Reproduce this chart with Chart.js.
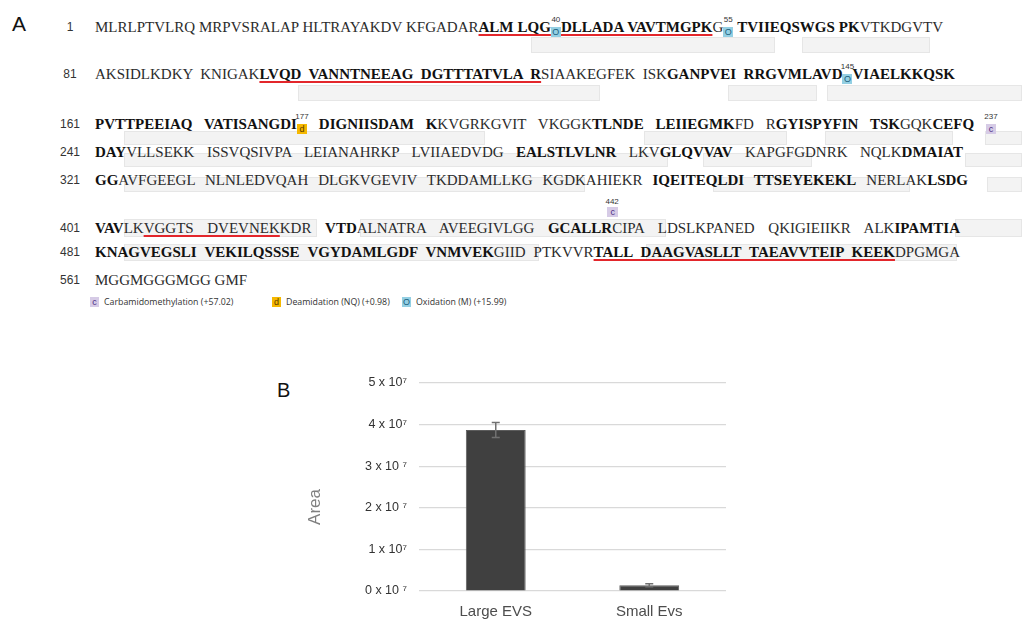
<!DOCTYPE html>
<html>
<head>
<meta charset="utf-8">
<script src="https://cdn.jsdelivr.net/npm/chart.js@4.4.1/dist/chart.umd.min.js"></script>
<style>
  html,body{margin:0;padding:0;background:#fff;}
  body{width:1022px;height:621px;overflow:hidden;position:relative;font-family:"Liberation Sans",Arial,sans-serif;}
  .panel{position:absolute;font-family:"Liberation Sans",Arial,sans-serif;color:#111;}
  .cov{position:absolute;background:#f3f3f3;border:1px solid #e6e6e6;box-sizing:border-box;z-index:0;}
  .seq{position:absolute;left:95px;display:inline-block;height:18px;line-height:18px;font-size:15px;
       font-family:"Liberation Serif","Times New Roman",serif;white-space:pre;color:#2b2b2b;z-index:2;transform-origin:0 50%;}
  .seq .b{font-weight:bold;color:#111;}
  .seq .ul{text-decoration:underline;text-decoration-color:#e3262b;text-decoration-thickness:2px;text-underline-offset:2px;}
  .ln{position:absolute;left:55px;width:30px;text-align:center;font:12px "Liberation Sans",Arial,sans-serif;color:#333;line-height:14px;z-index:2;}
  .mk{display:inline-block;position:relative;width:10px;height:10px;line-height:10px;font:9px "Liberation Sans",Arial,sans-serif;
      text-align:center;vertical-align:-3px;font-weight:normal;}
  .mk .num,.mka .num{position:absolute;left:50%;transform:translateX(-50%);top:-12px;font:8px "Liberation Sans",Arial,sans-serif;color:#333;line-height:9px;white-space:nowrap;}
  .mka{display:inline-block;position:relative;width:0;height:10px;}
  .mka .box{position:absolute;left:-5px;top:-16px;width:11px;height:10px;line-height:10px;font:9px "Liberation Sans",Arial,sans-serif;text-align:center;}
  .mka .num{top:-26px;}
  .o{background:#93cfe3;color:#1b5e7c;}
  .d{background:#f5b800;color:#5b3b00;}
  .c{background:#d6cbe6;color:#4b2e83;}
  .leg{position:absolute;top:296px;height:11px;line-height:11px;font:8.8px "Open Sans","Liberation Sans",sans-serif;color:#333;white-space:nowrap;}
  .leg .sw{display:inline-block;width:9px;height:10px;line-height:10px;text-align:center;margin-right:5px;font:9px "Liberation Sans",Arial,sans-serif;vertical-align:0;}
  #chartWrap{position:absolute;left:270px;top:360px;width:480px;height:261px;}
</style>
</head>
<body>
<div class="panel" style="left:12px;top:12px;font-size:21px;">A</div>
<div class="panel" style="left:277px;top:379px;font-size:20px;">B</div>
<div id="seqArea"></div>
<div class="leg" style="left:90px;"><span class="sw c">c</span>Carbamidomethylation (+57.02)</div>
<div class="leg" style="left:272px;"><span class="sw d">d</span>Deamidation (NQ) (+0.98)</div>
<div class="leg" style="left:402px;"><span class="sw o">O</span>Oxidation (M) (+15.99)</div>
<div id="chartWrap"><canvas id="chart" width="480" height="261"></canvas></div>

<script>
// ---------------- Panel B data ----------------
const categories = ['Large EVS', 'Small Evs'];
const areaValues = [3.87e7, 0.14e7];
const areaErrors = [0.18e7, 0.035e7];
const yTickLabels = ['0 x 10 \u2077', '1 x 10\u2077', '2 x 10 \u2077', '3 x 10 \u2077', '4 x 10\u2077', '5 x 10\u2077'];
const yAxisTitle = 'Area';

// ---------------- Panel A data ----------------
// *bold*, _underlined (red)_, {type:position} modification marker, {C:n} marker drawn above the text
const lineStarts = [1, 81, 161, 241, 321, 401, 481, 561];
const sequenceLines = [
  "MLRLPTVLRQ MRPVSRALAP HLTRAYAKDV KFGADAR_*ALM LQG*{o:40}*DLLADA VAVTMGPK*_G{o:55} *TVIIEQSWGS PK*VTKDGVTV",
  "AKSIDLKDKY KNIGAK_*LVQD VANNTNEEAG DGTTTATVLA R*_SIAAKEGFEK ISK*GANPVEI RRGVMLAVD*{o:145}*VIAELKKQSK*",
  "*PVTTPEEIAQ VATISANGDI*{d:177} *DIGNIISDAM K*KVGRKGVIT VKGGK*TLNDE LEIIEGMK*FD R*GYISPYFIN TSK*GQK*CEFQ* {c:237}",
  "*DAY*VLLSEKK ISSVQSIVPA LEIANAHRKP LVIIAEDVDG *EALSTLVLNR* LKV*GLQVVAV* KAPGFGDNRK NQLK*DMAIAT*",
  "*GG*AVFGEEGL NLNLEDVQAH DLGKVGEVIV TKDDAMLLKG KGDKAHIEKR *IQEITEQLDI TTSEYEKEKL* NERLAK*LSDG*",
  "*VAV*LK_VGGTS DVEVNEK_KDR *VTD*ALNATRA AVEEGIVLGG *GCALLR*{C:442}CIPA LDSLKPANED QKIGIEIIKR ALK*IPAMTIA*",
  "*KNAGVEGSLI VEKILQSSSE VGYDAMLGDF VNMVEK*GIID PTKVVR_*TALL DAAGVASLLT TAEAVVTEIP KEEK*_DPGMGA",
  "MGGMGGGMGG GMF"
];

// ---------------- Panel A layout (not data) ----------------
const lineCenters = [27, 74, 124, 152, 180, 228, 252, 280];
const lineRightEdges = [943, 955, 996, 963, 968, 960, 960, null];
const coverageBoxes = [
  [531,775,37,53],[802,930,37,53],
  [298,600,85,101],[728,817,85,101],[827,1022,85,101],
  [124,485,131,145],[644,787,131,145],[825,953,131,145],[985,1022,131,145],
  [124,668,153,167],[703,812,153,167],[965,1022,153,167],
  [124,585,177,192],[713,910,177,192],[987,1022,177,192],
  [124,317,219,237],[360,666,219,237],[955,1022,219,237],
  [124,539,244,261],[646,957,244,261]
];

const area = document.getElementById('seqArea');
coverageBoxes.forEach(([x1,x2,y1,y2]) => {
  const d = document.createElement('div');
  d.className = 'cov';
  d.style.cssText = `left:${x1}px;top:${y1}px;width:${x2-x1}px;height:${y2-y1}px;`;
  area.appendChild(d);
});

function markerHTML(type, num) {
  const letter = {o:'O', d:'d', c:'c', C:'c'}[type];
  if (type === 'C') {
    return `<span class="mka"><span class="num">${num}</span><span class="box c">${letter}</span></span>`;
  }
  return `<span class="mk ${type}"><span class="num">${num}</span>${letter}</span>`;
}
function buildLine(str) {
  let html = '', bold = false, ul = false, buf = '';
  const flush = () => {
    if (buf) { html += `<span class="${bold ? 'b' : ''} ${ul ? 'ul' : ''}">${buf}</span>`; buf = ''; }
  };
  for (let i = 0; i < str.length; i++) {
    const ch = str[i];
    if (ch === '*') { flush(); bold = !bold; }
    else if (ch === '_') { flush(); ul = !ul; }
    else if (ch === '{') {
      flush();
      const j = str.indexOf('}', i);
      const [t, n] = str.slice(i + 1, j).split(':');
      html += markerHTML(t, n);
      i = j;
    } else buf += ch;
  }
  flush();
  return html;
}

sequenceLines.forEach((s, k) => {
  const ln = document.createElement('div');
  ln.className = 'ln';
  ln.style.top = (lineCenters[k] - 7) + 'px';
  ln.textContent = lineStarts[k];
  area.appendChild(ln);

  const el = document.createElement('div');
  el.className = 'seq';
  el.style.top = (lineCenters[k] - 9) + 'px';
  el.innerHTML = buildLine(s);
  area.appendChild(el);

  const right = lineRightEdges[k];
  if (right) {
    const target = right - 95;
    const W = el.getBoundingClientRect().width;
    const gaps = (s.match(/ /g) || []).length;
    if (W <= target) {
      el.style.wordSpacing = ((target - W) / gaps) + 'px';
    } else {
      el.style.transform = `scaleX(${target / W})`;
    }
  }
});

// ---------------- Panel B chart ----------------
const errorBarPlugin = {
  id: 'errorBars',
  afterDatasetsDraw(chart) {
    const {ctx} = chart;
    const y = chart.scales.y;
    const meta = chart.getDatasetMeta(0);
    ctx.save();
    ctx.strokeStyle = '#707070';
    ctx.lineWidth = 1.5;
    meta.data.forEach((bar, i) => {
      const top = y.getPixelForValue(areaValues[i] + areaErrors[i]);
      const bot = y.getPixelForValue(areaValues[i] - areaErrors[i]);
      const x = bar.x;
      ctx.beginPath();
      ctx.moveTo(x, top); ctx.lineTo(x, bot);
      ctx.moveTo(x - 4, top); ctx.lineTo(x + 4, top);
      ctx.moveTo(x - 4, bot); ctx.lineTo(x + 4, bot);
      ctx.stroke();
    });
    ctx.restore();
  }
};
const yTitlePlugin = {
  id: 'yTitle',
  afterDraw(chart) {
    const {ctx} = chart;
    ctx.save();
    ctx.translate(45, 147);
    ctx.rotate(-Math.PI / 2);
    ctx.font = '17px "Liberation Sans", Arial, sans-serif';
    ctx.fillStyle = '#7f7f7f';
    ctx.textAlign = 'center';
    ctx.textBaseline = 'middle';
    ctx.fillText(yAxisTitle, 0, 0);
    ctx.restore();
  }
};

new Chart(document.getElementById('chart'), {
  type: 'bar',
  data: {
    labels: categories,
    datasets: [{
      data: areaValues,
      backgroundColor: '#404040',
      borderColor: '#5c5c5c',
      borderWidth: 1,
      barPercentage: 0.39,
      categoryPercentage: 1
    }]
  },
  options: {
    responsive: false,
    animation: false,
    devicePixelRatio: 1,
    layout: {padding: {left: 0, top: 23, right: 24, bottom: 0}},
    plugins: {legend: {display: false}, tooltip: {enabled: false}},
    scales: {
      x: {
        grid: {display: false},
        border: {display: false},
        ticks: {font: {family: '"Liberation Sans", Arial, sans-serif', size: 15}, color: '#4d4d4d', padding: 4},
        afterFit(s) { s.height = 30; }
      },
      y: {
        min: 0, max: 5e7,
        ticks: {
          stepSize: 1e7,
          callback: (v, i) => yTickLabels[i],
          font: {family: '"Liberation Sans", Arial, sans-serif', size: 12.5},
          color: '#333',
          padding: 12
        },
        grid: {color: '#d9d9d9', drawTicks: false, lineWidth: 1.2},
        border: {display: false},
        afterFit(s) { s.width = 149; }
      }
    }
  },
  plugins: [errorBarPlugin, yTitlePlugin]
});
</script>
</body>
</html>
